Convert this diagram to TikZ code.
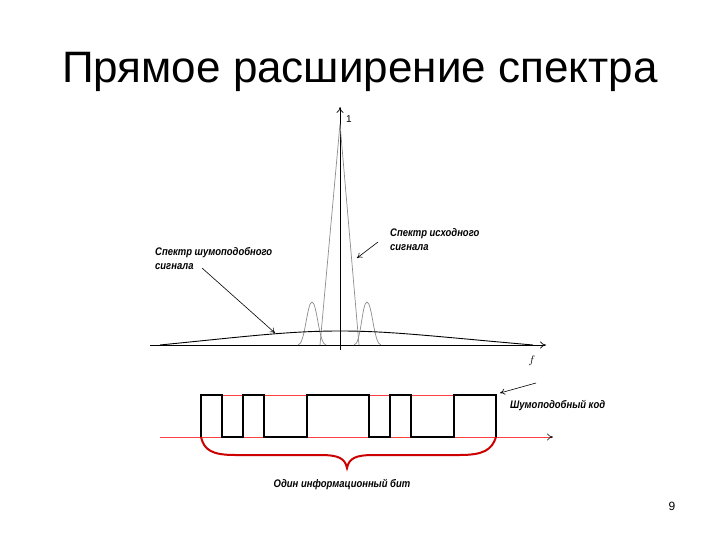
\documentclass[tikz,border=0pt]{standalone}
\usepackage{fontspec}
\setmainfont{Liberation Sans}
\newfontfamily\narrowfont[FakeStretch=0.86]{Liberation Sans}
\usetikzlibrary{positioning,arrows.meta}

\tikzset{
  note/.style={font=\narrowfont\bfseries\itshape\fontsize{11}{14}\selectfont, align=left, inner sep=0pt},
  axis/.style={draw=black, line width=0.7pt},
  wide spectrum/.style={draw=black, line width=0.9pt},
  narrow spectrum/.style={draw=black!45, line width=0.7pt},
  chips/.style={draw=black, line width=2.6pt, line join=miter},
  level/.style={draw=red!75, line width=0.6pt},
  bitbrace/.style={draw=red!80!black, line width=2pt},
  pointer/.style={draw=black, line width=0.6pt, -{To[length=5pt,width=6pt]}}
}

\begin{document}
\begin{tikzpicture}[x=1pt,y=-1pt]
  \useasboundingbox (0,0) rectangle (720,540);
  \fill[white] (0,0) rectangle (720,540);

  \node[anchor=base west, inner sep=0pt, font=\fontsize{44}{50}\selectfont] (title) at (62,83) {Прямое расширение спектра};

  % spectrum plot
  \coordinate (origin) at (340,345);
  \draw[axis, -{To[length=6pt,width=7pt]}] (150,345) -- (546,345) coordinate (faxis);
  \draw[axis, -{To[length=6pt,width=7pt]}] (340,350) -- (340,107) coordinate (yaxis);
  \node[inner sep=0pt, font=\fontsize{10}{11}\selectfont] (one) at (349,119) {1};
  \node[inner sep=0pt, font=\itshape\fontsize{11}{12}\selectfont] (freq) at (532,361) {$f$};

  \draw[narrow spectrum] (320,345) -- (340,124) -- (359,345);
  \draw[narrow spectrum] (298,345) .. controls (305,345) and (307,302) .. (312,302)
    .. controls (317,302) and (319,345) .. (326,345);
  \draw[narrow spectrum] (354,345) .. controls (361,345) and (362,302) .. (367,302)
    .. controls (372,302) and (374,345) .. (381,345);
  \draw[wide spectrum] (160,345) .. controls (250,336) and (290,331) .. (340,331)
    .. controls (390,331) and (430,336) .. (533,345);

  \node[note, anchor=north west] (noiselabel) at (155,247) {Спектр шумоподобного\\сигнала};
  \coordinate (noisetail) at (202,268);
  \coordinate (noisehead) at (275,333);
  \draw[pointer] (noisetail) -- (noisehead);

  \node[note, anchor=north west] (sourcelabel) at (390,228) {Спектр исходного\\сигнала};
  \coordinate (sourcetail) at (378,242);
  \coordinate (sourcehead) at (357,258);
  \draw[pointer] (sourcetail) -- (sourcehead);

  % pseudo-noise code
  \draw[level] (201,395) -- (496,395);
  \draw[level, -{To[length=6pt,width=7pt,color=black]}] (160,437) -- (553,437);
  \draw[chips] (201,437) -- (201,395) -- (222,395) -- (222,437) -- (243,437) -- (243,395)
    -- (264,395) -- (264,437) -- (307,437) -- (307,395) -- (369,395) -- (369,437)
    -- (390,437) -- (390,395) -- (411,395) -- (411,437) -- (454,437) -- (454,395)
    -- (496,395) -- (496,437);

  \node[note, anchor=base west] (codelabel) at (510,408) {Шумоподобный код};
  \coordinate (codetail) at (536,383);
  \coordinate (codehead) at (500,393);
  \draw[pointer] (codetail) -- (codehead);

  \draw[bitbrace] (201,437) .. controls (204,450) and (212,455) .. (235,455) -- (320,455)
    .. controls (338,455) and (345,458) .. (347,468)
    .. controls (349,458) and (356,455) .. (374,455) -- (460,455)
    .. controls (483,455) and (492,450) .. (496,437);
  \node[note, anchor=base] (bitlabel) at (342,487) {Один информационный бит};

  \node[inner sep=0pt, anchor=base, font=\fontsize{12}{13}\selectfont] (page) at (672,510) {9};
\end{tikzpicture}
\end{document}
